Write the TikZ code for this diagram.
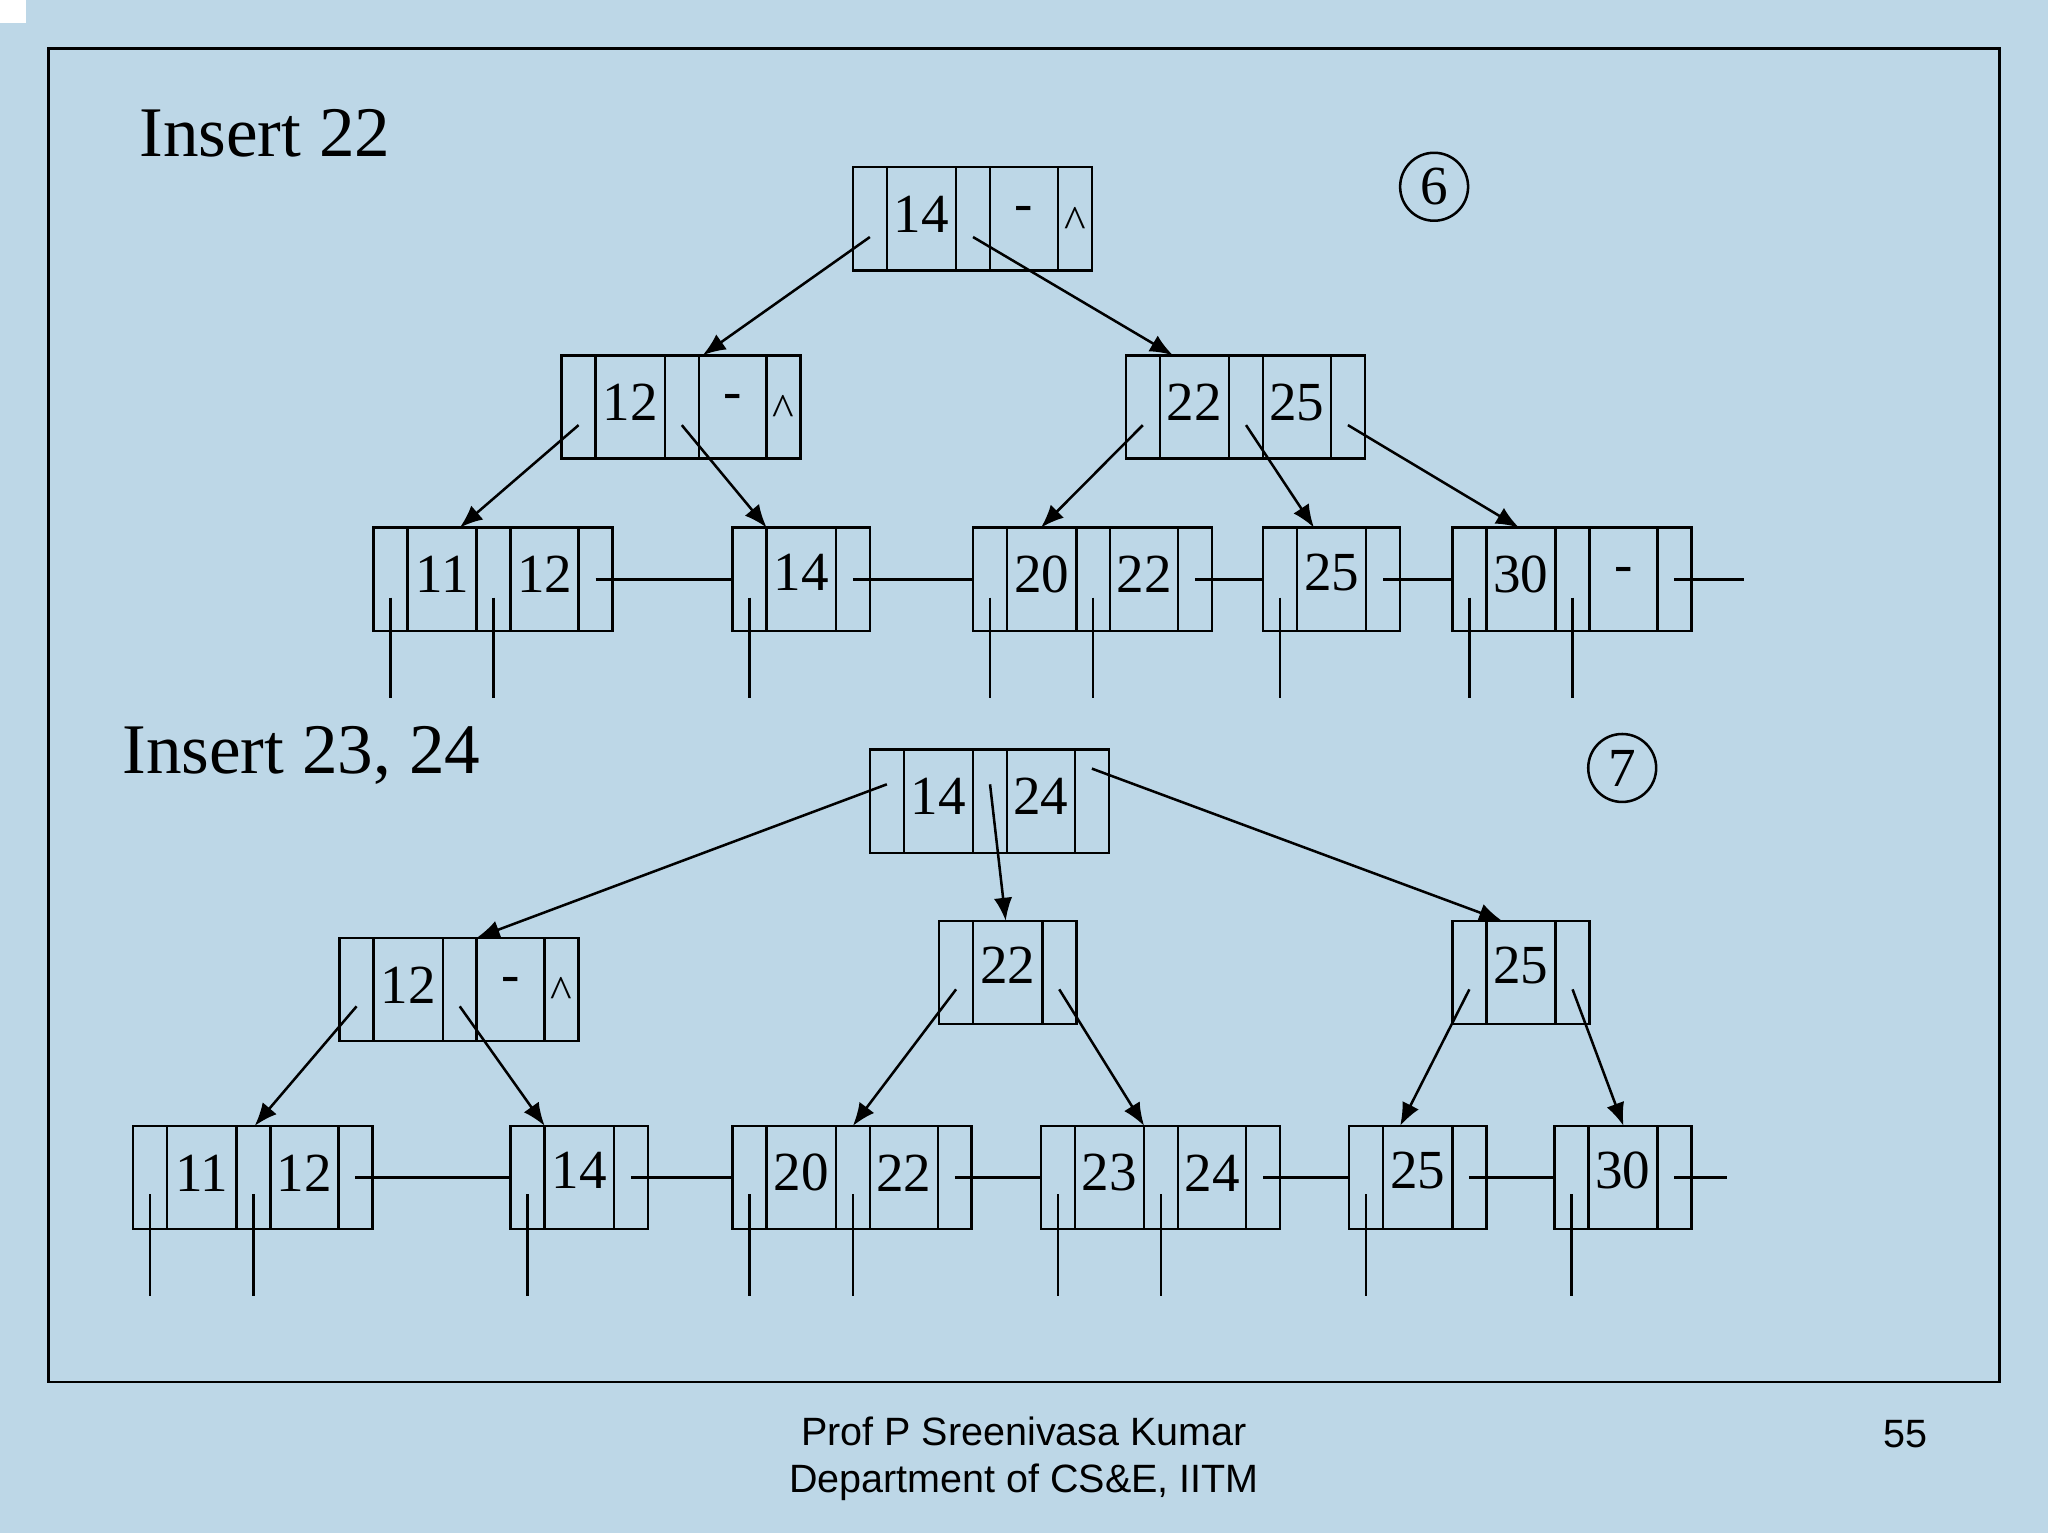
\documentclass[tikz,border=0pt]{standalone}
\usepackage{fontspec}
\setmainfont{Liberation Serif}
\newfontfamily\footfont{Liberation Sans}
\usetikzlibrary{arrows.meta}
\definecolor{bg}{HTML}{BDD7E7}
\tikzset{
 ln/.style={line width=0.55pt,black},
 arr/.style={ln,-{Latex[length=5pt,width=4pt]}},
 key/.style={font=\fontsize{12}{12}\selectfont,inner sep=0pt},
 ttl/.style={font=\fontsize{15.5}{15.5}\selectfont,anchor=base west,inner sep=0pt},
 circ/.style={circle,draw,line width=0.55pt,minimum size=0.52cm,inner sep=0pt,font=\fontsize{12}{12}\selectfont},
 foot/.style={font=\footfont\fontsize{8.6}{10.3}\selectfont,inner sep=0pt}
}
\newcommand\twonode[6]{%
 \draw[ln] (#2,#3) rectangle ++(183,79);
 \foreach \d in {26,79,105,157} \draw[ln] (#2+\d,#3) -- ++(0,79);
 \node[key] (#1-k1) at (#2+52.5,#3+36) {#4};
 \node[key] (#1-k2) at (#2+131,#3+36) {#5};
 \node[key,font=\fontsize{10}{10}\selectfont] (#1-x) at (#2+170,#3+42) {#6};
 \coordinate (#1-p0) at (#2+13,#3+39.5);
 \coordinate (#1-p1) at (#2+92,#3+39.5);
 \coordinate (#1-p2) at (#2+170,#3+39.5);
}
\newcommand\onenode[4]{%
 \draw[ln] (#2,#3) rectangle ++(105,79);
 \foreach \d in {26,79} \draw[ln] (#2+\d,#3) -- ++(0,79);
 \node[key] (#1-k1) at (#2+52.5,#3+34) {#4};
 \coordinate (#1-p0) at (#2+13,#3+39.5);
 \coordinate (#1-p1) at (#2+92,#3+39.5);
}
\begin{document}
\begin{tikzpicture}[x=0.01cm,y=-0.01cm]
\fill[bg] (0,0) rectangle (1568,1174);
\useasboundingbox (0,0) rectangle (1568,1174);
\fill[white] (0,0) rectangle (20,18);
\draw[ln] (37,37) rectangle (1531,1058);
\node[ttl] (t6) at (106,120) {Insert 22};
\node[ttl] (t7) at (93,592) {Insert 23, 24};
\node[circ] (c6) at (1098,143) {6};
\node[circ] (c7) at (1242,588) {7};
% ---- tree 6
\twonode{R}{653}{128}{14}{-}{\^{}}
\twonode{L}{430}{272}{12}{-}{\^{}}
\twonode{M}{862}{272}{22}{25}{}
\twonode{A}{286}{404}{11}{12}{}
\onenode{B}{561}{404}{14}
\twonode{C}{745}{404}{20}{22}{}
\onenode{D}{967}{404}{25}
\twonode{E}{1112}{404}{30}{-}{}
\coordinate (ra) at (538,272); \coordinate (rb) at (898,272);
\coordinate (la) at (352,404); \coordinate (lb) at (587,404);
\coordinate (ma) at (797,404); \coordinate (mb) at (1006,404); \coordinate (mc) at (1163,404);
\draw[arr] ([shift={(0,14)}]R-p0) -- (ra); \draw[arr] ([shift={(0,14)}]R-p1) -- (rb);
\draw[arr] ([shift={(0,14)}]L-p0) -- (la); \draw[arr] ([shift={(0,14)}]L-p1) -- (lb);
\draw[arr] ([shift={(0,14)}]M-p0) -- (ma); \draw[arr] ([shift={(0,14)}]M-p1) -- (mb); \draw[arr] ([shift={(0,14)}]M-p2) -- (mc);
\foreach \n in {A-p0,A-p1,B-p0,C-p0,C-p1,D-p0,E-p0,E-p1} \draw[ln] ([shift={(0,14)}]\n) -- ++(0,77);
\draw[ln] (A-p2) -- (561,443.5);
\draw[ln] (B-p1) -- (745,443.5);
\draw[ln] (C-p2) -- (967,443.5);
\draw[ln] (D-p1) -- (1112,443.5);
\coordinate (e6) at (1335,443.5);
\draw[ln] (E-p2) -- (e6);
% ---- tree 7
\twonode{S}{666}{574}{14}{24}{}
\twonode{P}{260}{718}{12}{-}{\^{}}
\onenode{Q}{719}{705}{22}
\onenode{N}{1112}{705}{25}
\twonode{F}{102}{862}{11}{12}{}
\onenode{G}{391}{862}{14}
\twonode{H}{561}{862}{20}{22}{}
\twonode{I}{797}{862}{23}{24}{}
\onenode{J}{1033}{862}{25}
\onenode{K}{1190}{862}{30}
\coordinate (sa) at (365,718); \coordinate (sb) at (770,705); \coordinate (sc) at (1150,705);
\draw[arr] ([shift={(0,-13)}]S-p0) -- (sa); \draw[arr] ([shift={(0,-13)}]S-p1) -- (sb); \draw[arr] ([shift={(0,-25)}]S-p2) -- (sc);
\coordinate (pa) at (195,862); \coordinate (pb) at (417,862);
\coordinate (qa) at (653,862); \coordinate (qb) at (876,862);
\coordinate (na) at (1072,862); \coordinate (nb) at (1243,862);
\draw[arr] ([shift={(0,13)}]P-p0) -- (pa); \draw[arr] ([shift={(0,13)}]P-p1) -- (pb);
\draw[arr] ([shift={(0,13)}]Q-p0) -- (qa); \draw[arr] ([shift={(0,13)}]Q-p1) -- (qb);
\draw[arr] ([shift={(0,13)}]N-p0) -- (na); \draw[arr] ([shift={(0,13)}]N-p1) -- (nb);
\foreach \n in {F-p0,F-p1,G-p0,H-p0,H-p1,I-p0,I-p1,J-p0,K-p0} \draw[ln] ([shift={(0,13)}]\n) -- ++(0,78);
\draw[ln] (F-p2) -- (391,901.5);
\draw[ln] (G-p1) -- (561,901.5);
\draw[ln] (H-p2) -- (797,901.5);
\draw[ln] (I-p2) -- (1033,901.5);
\draw[ln] (J-p1) -- (1190,901.5);
\coordinate (e7) at (1322,901.5);
\draw[ln] (K-p1) -- (e7);
% footer
\node[foot,align=center] (ft) at (784,1117) {Prof P Sreenivasa Kumar\\Department of CS\&E, IITM};
\node[foot] (pg) at (1459,1098) {55};
\end{tikzpicture}
\end{document}
